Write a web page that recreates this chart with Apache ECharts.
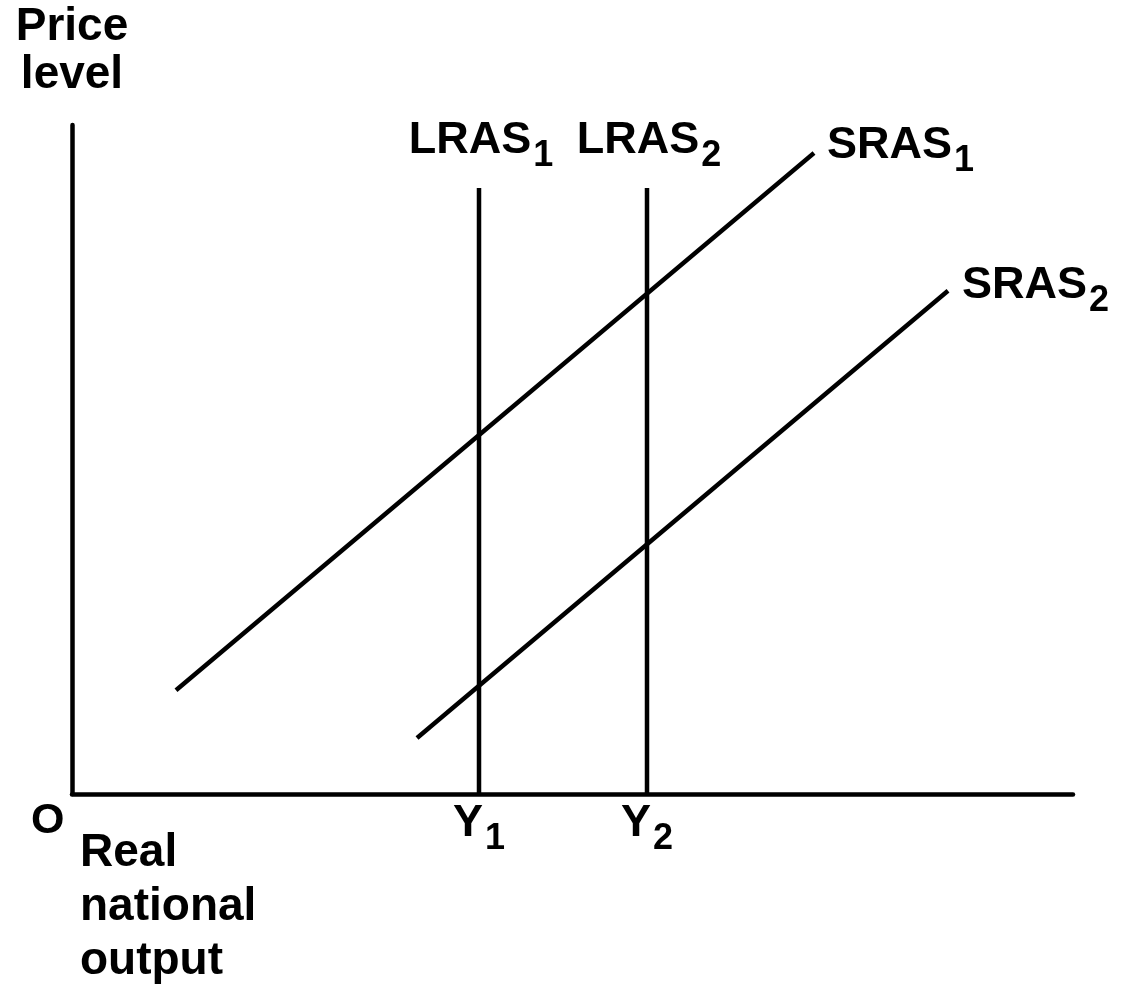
<!DOCTYPE html>
<html>
<head>
<meta charset="utf-8">
<script src="https://cdn.jsdelivr.net/npm/echarts@6/dist/echarts.min.js"></script>
<style>
  html, body { margin: 0; padding: 0; background: #fff; }
  #chart { width: 1122px; height: 988px; }
</style>
</head>
<body>
<div id="chart"></div>
<script>
// curves, in plot units (x: output, y: price level)
const lras1 = [[407, 0], [407, 607]];
const lras2 = [[575, 0], [575, 607]];
const sras1 = [[104, 104], [742, 642]];
const sras2 = [[345, 56], [876, 504]];
const curveNames = ['LRAS', 'LRAS', 'SRAS', 'SRAS'];
const curveSubs = ['1', '2', '1', '2'];
const tickNames = ['Y', 'Y'];

const FONT = '"Liberation Sans", Arial, sans-serif';
const rich = {
  m: { fontFamily: FONT, fontWeight: 'bold', fontSize: 45, color: '#000', verticalAlign: 'top', lineHeight: 50 },
  s: { fontFamily: FONT, fontWeight: 'bold', fontSize: 36, color: '#000', verticalAlign: 'top', lineHeight: 50, padding: [20, 0, 0, 2] }
};

function sub(name, n) {
  return '{m|' + name + '}{s|' + n + '}';
}

function lineSeries(data, topLabel, bottomLabel) {
  return {
    type: 'line',
    data: data.map(function (p, i) {
      const item = { value: p };
      if (i === 1 && topLabel) item.label = topLabel;
      if (i === 0 && bottomLabel) item.label = bottomLabel;
      return item;
    }),
    symbol: 'circle',
    symbolSize: 0,
    showSymbol: true,
    silent: true,
    itemStyle: { color: 'rgba(0,0,0,0)' },
    lineStyle: { color: '#000', width: 4.5 },
    label: { show: false }
  };
}

const chart = echarts.init(document.getElementById('chart'));
chart.setOption({
  animation: false,
  grid: { left: 72, right: 49, top: 125, bottom: 193 },
  xAxis: {
    type: 'value', min: 0, max: 1001,
    axisLine: { show: true, lineStyle: { color: '#000', width: 4.5 } },
    axisTick: { show: false }, axisLabel: { show: false }, splitLine: { show: false },
    name: 'Real\nnational\noutput',
    nameLocation: 'start',
    nameGap: -8,
    nameTextStyle: {
      fontFamily: FONT, fontWeight: 'bold', fontSize: 46, color: '#000',
      align: 'left', verticalAlign: 'top', lineHeight: 54, padding: [32, 0, 0, 0]
    }
  },
  yAxis: {
    type: 'value', min: 0, max: 670,
    axisLine: { show: true, lineStyle: { color: '#000', width: 4.5 } },
    axisTick: { show: false }, axisLabel: { show: false }, splitLine: { show: false },
    name: 'Price\nlevel',
    nameLocation: 'end',
    nameGap: 26,
    nameTextStyle: {
      fontFamily: FONT, fontWeight: 'bold', fontSize: 46, color: '#000',
      align: 'center', verticalAlign: 'bottom', lineHeight: 48
    }
  },
  graphic: [{
    type: 'text', left: 31, top: 800,
    style: { text: 'O', font: 'bold 43px ' + FONT, fill: '#000' }
  }],
  series: [
    lineSeries(lras1,
      { show: true, position: 'top', distance: 4, offset: [2, -16], formatter: sub(curveNames[0], curveSubs[0]), rich: rich },
      { show: true, position: 'bottom', distance: 6, offset: [0, 1], formatter: sub(tickNames[0], '1'), rich: rich }),
    lineSeries(lras2,
      { show: true, position: 'top', distance: 4, offset: [2, -16], formatter: sub(curveNames[1], curveSubs[1]), rich: rich },
      { show: true, position: 'bottom', distance: 6, offset: [0, 1], formatter: sub(tickNames[1], '2'), rich: rich }),
    lineSeries(sras1,
      { show: true, position: 'right', distance: 13, offset: [0, -5], formatter: sub(curveNames[2], curveSubs[2]), rich: rich }),
    lineSeries(sras2,
      { show: true, position: 'right', distance: 14, offset: [0, -3], formatter: sub(curveNames[3], curveSubs[3]), rich: rich })
  ]
});
</script>
</body>
</html>
